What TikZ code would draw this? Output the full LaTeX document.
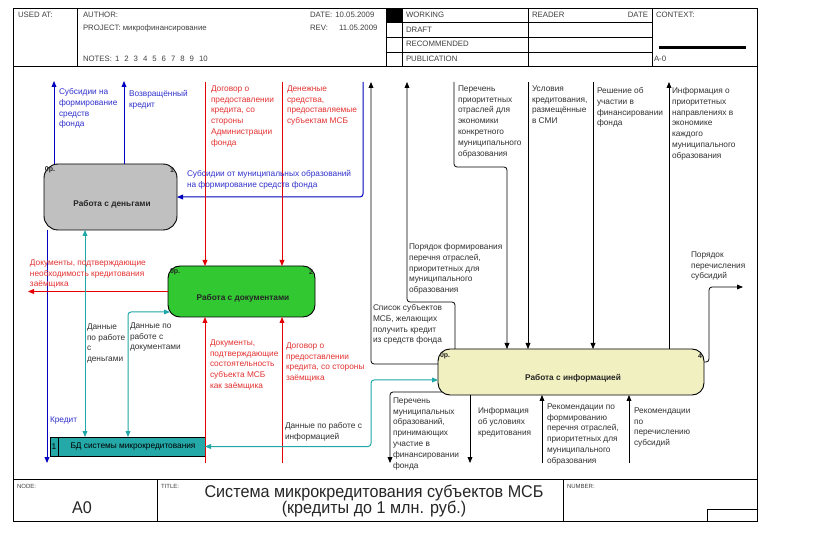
\documentclass[tikz,border=0pt]{standalone}
\usepackage{fontspec}
\setmainfont{Liberation Sans}
\newfontfamily\titlefont[FakeStretch=0.95]{Liberation Sans}
\usetikzlibrary{arrows.meta}
\definecolor{cblue}{RGB}{0,0,190}
\definecolor{cbluetext}{RGB}{50,50,205}
\definecolor{cred}{RGB}{228,0,0}
\definecolor{credtext}{RGB}{228,50,50}
\definecolor{cteal}{RGB}{32,168,168}
\definecolor{cgray}{RGB}{192,192,192}
\definecolor{cgreen}{RGB}{50,200,50}
\definecolor{cyellow}{RGB}{240,240,192}
\definecolor{cbd}{RGB}{36,168,168}
\definecolor{ctext}{RGB}{50,50,50}
\begin{document}
\begin{tikzpicture}[x=1pt,y=-1pt,
  every node/.style={inner sep=0pt,outer sep=0pt},
  lbl/.style={anchor=north west,align=left,font=\fontsize{8.3}{10.8}\selectfont,execute at begin node=\strut,text=ctext},
  hdr/.style={anchor=west,font=\fontsize{7.8}{9}\selectfont,text=black!75},
  sml/.style={anchor=west,font=\fontsize{6}{7}\selectfont,text=black!75},
  procbox/.style={draw=black,line width=0.9pt,rounded corners=12pt},
  boxtxt/.style={font=\fontsize{8.3}{10}\selectfont\bfseries,text=black!85},
  costtxt/.style={font=\fontsize{7}{8}\selectfont\bfseries,text=black!85},
  arrowone/.style={-{Triangle[length=6pt,width=4.8pt]}},
  arrowtwo/.style={{Triangle[length=6pt,width=4.8pt]}-{Triangle[length=6pt,width=4.8pt]}},
  bl/.style={draw=cblue,line width=1pt,arrowone,rounded corners=3pt},
  rd/.style={draw=cred,line width=1pt,arrowone,rounded corners=3pt},
  tl/.style={draw=cteal,line width=1pt,arrowtwo,rounded corners=3pt},
  bk/.style={draw=black,line width=0.8pt,arrowone,rounded corners=3pt},
  frm/.style={draw=black,line width=0.8pt},
]
\useasboundingbox (0,0) rectangle (823,540);
\fill[white] (0,0) rectangle (823,540);

% ---------- header ----------
\draw[frm] (13,8) rectangle (757,66);
\foreach \xx in {77,386,402,528,652} \draw[frm] (\xx,8) -- (\xx,66);
\foreach \yy in {22,37,52} \draw[frm] (386,\yy) -- (652,\yy);
\fill[black] (386,8) rectangle (402,22);
\node[hdr] (h1) at (18,15) {USED AT:};
\node[hdr] (h2) at (83,15) {AUTHOR:};
\node[hdr] (h3) at (83,28) {PROJECT: микрофинансирование};
\node[hdr] (h4) at (83,59) {NOTES:\hspace{3pt}1\hspace{5pt}2\hspace{5pt}3\hspace{5pt}4\hspace{5pt}5\hspace{5pt}6\hspace{5pt}7\hspace{5pt}8\hspace{5pt}9\hspace{5pt}10};
\node[hdr] (h5) at (310,15) {DATE:\hspace{3pt}10.05.2009};
\node[hdr] (h6) at (310,28) {REV:};
\node[hdr] (h7) at (339,28) {11.05.2009};
\node[hdr] (h8) at (406,15) {WORKING};
\node[hdr] (h9) at (406,30) {DRAFT};
\node[hdr] (h10) at (406,44) {RECOMMENDED};
\node[hdr] (h11) at (406,59) {PUBLICATION};
\node[hdr] (h12) at (532,15) {READER};
\node[hdr,anchor=east] (h13) at (648,15) {DATE};
\node[hdr] (h14) at (656,15) {CONTEXT:};
\node[hdr] (h15) at (654,59) {A-0};
\draw[black,line width=3pt] (659,48) -- (746,48);

% ---------- main frame and footer ----------
\draw[frm] (13,66) rectangle (757,521);
\draw[frm] (13,479) -- (757,479);
\draw[frm] (157,479) -- (157,521);
\draw[frm] (563,479) -- (563,521);
\draw[frm] (707,509) rectangle (757,521);
\node[sml] (f1) at (17,486) {NODE:};
\node[sml] (f2) at (161,486) {TITLE:};
\node[sml] (f3) at (567,486) {NUMBER:};
\node[font=\titlefont\fontsize{17}{16}\selectfont,text=black!85] (f4) at (82,508) {A0};
\node[font=\titlefont\fontsize{17}{16}\selectfont,align=center,text=black!85] (f5) at (374,501) {Система микрокредитования субъектов МСБ\\(кредиты до 1 млн. руб.)};

% ---------- boxes ----------
\node[procbox,rounded corners=14pt,fill=cgray,minimum width=133pt,minimum height=66pt] (b1) at (110.5,197) {};
\node[procbox,fill=cgreen,minimum width=147pt,minimum height=51pt] (b2) at (241.5,291.5) {};
\node[procbox,fill=cyellow,minimum width=266pt,minimum height=46pt] (b4) at (571,372) {};
\node[draw=black,line width=0.8pt,fill=cbd,minimum width=155pt,minimum height=19pt] (bd) at (127.5,446.5) {};
\draw[line width=0.8pt] (58,437) -- (58,456);

\node[boxtxt] (b1t) at (112,204) {Работа с деньгами};
\node[boxtxt] (b2t) at (243,298) {Работа с документами};
\node[boxtxt] (b4t) at (573,378) {Работа с информацией};
\node[font=\fontsize{8.3}{10}\selectfont,text=black] (bdn) at (54,447) {1};
\node[font=\fontsize{8.3}{10}\selectfont,text=black] (bdt) at (133,447) {БД системы микрокредитования};
\node[costtxt,anchor=west] (c1a) at (45,170) {0р.};
\node[costtxt] (c1b) at (172,170) {1};
\node[costtxt,anchor=west] (c2a) at (170,272) {0р.};
\node[costtxt] (c2b) at (311,272) {2};
\node[costtxt,anchor=west] (c4a) at (440,356) {0р.};
\node[costtxt] (c4b) at (700,356) {4};

% ---------- coordinates ----------
\coordinate (a1) at (54,81);
\coordinate (a2) at (124,81);
\coordinate (a3) at (363,82);
\coordinate (a4) at (47,463);
\coordinate (r1) at (205,82);
\coordinate (r2) at (282,82);
\coordinate (r3) at (28,291.5);
\coordinate (r4) at (205,463);
\coordinate (r5) at (282,463);
\coordinate (t1x) at (85,0);
\coordinate (t2x) at (128,0);
\coordinate (t2e) at (170,312);
\coordinate (t3a) at (371,380);
\coordinate (k1) at (371,82);
\coordinate (k1y) at (0,364);
\coordinate (k2) at (407,82);
\coordinate (k2b) at (455,302);
\coordinate (k3) at (454,82);
\coordinate (k3b) at (507,167);
\coordinate (k4) at (528,82);
\coordinate (k5) at (593,82);
\coordinate (k6) at (669,82);
\coordinate (k7y) at (0,362);
\coordinate (k7b) at (709,287);
\coordinate (k7) at (743,287);
\coordinate (k8s) at (442,392);
\coordinate (k8) at (390,463);
\coordinate (k9) at (470,463);
\coordinate (k10) at (542,463);
\coordinate (k11) at (629,463);

% ---------- connectors ----------
\draw[bl] (b1.north -| a1) -- (a1);
\draw[bl] (b1.north -| a2) -- (a2);
\draw[bl] (a3) |- (b1.east);
\draw[bl] (b1.south -| a4) -- (a4);
\draw[rd] (r1) -- (b2.north -| r1);
\draw[rd] (r2) -- (b2.north -| r2);
\draw[rd] (b2.west) -- (r3);
\draw[rd] (r4) -- (b2.south -| r4);
\draw[rd] (r5) -- (b2.south -| r5);
\draw[tl] (b1.south -| t1x) -- (bd.north -| t1x);
\draw[tl] (bd.north -| t2x) |- (t2e);
\draw[tl] (b4.west |- t3a) -- (t3a) |- (bd.east);
\draw[bk] (b4.west |- k1y) -| (k1);
\draw[bk] (b4.north -| k2b) -- (k2b) -| (k2);
\draw[bk] (k3) |- (k3b) -- (b4.north -| k3b);
\draw[bk] (k4) -- (b4.north -| k4);
\draw[bk] (k5) -- (b4.north -| k5);
\draw[bk] (b4.north -| k6) -- (k6);
\draw[bk] (b4.east |- k7y) -| (k7b) -- (k7);
\draw[bk] (k8s) -| (k8);
\draw[bk] (b4.south -| k9) -- (k9);
\draw[bk] (k10) -- (b4.south -| k10);
\draw[bk] (k11) -- (b4.south -| k11);

% ---------- labels ----------
\node[lbl,text=cbluetext] (la1) at (59,88.5) {Субсидии на\\формирование\\средств\\фонда};
\node[lbl,text=cbluetext] (la2) at (129,90.5) {Возвращённый\\кредит};
\node[lbl,text=cbluetext] (la3) at (187,170.5) {Субсидии от муниципальных образований\\на формирование средств фонда};
\node[lbl,text=cbluetext] (la4) at (50,415) {Кредит};
\node[lbl,text=credtext] (lr1) at (211,85.5) {Договор о\\предоставлении\\кредита, со\\стороны\\Администрации\\фонда};
\node[lbl,text=credtext] (lr2) at (287,85.5) {Денежные\\средства,\\предоставляемые\\субъектам МСБ};
\node[lbl,text=credtext] (lr3) at (30,259.5) {Документы, подтверждающие\\необходимость кредитования\\заёмщика};
\node[lbl,text=credtext] (lr4) at (210,339.5) {Документы,\\подтверждающие\\состоятельность\\субъекта МСБ\\как заёмщика};
\node[lbl,text=credtext] (lr5) at (286,342.5) {Договор о\\предоставлении\\кредита, со стороны\\заёмщика};
\node[lbl] (lt1) at (87,323.5) {Данные\\по работе\\с\\деньгами};
\node[lbl] (lt2) at (130,322.5) {Данные по\\работе с\\документами};
\node[lbl] (lt3) at (285,422.5) {Данные по работе с\\информацией};
\node[lbl] (lk1) at (373,304.5) {Список субъектов\\МСБ, желающих\\получить кредит\\из средств фонда};
\node[lbl] (lk2) at (409,243.5) {Порядок формирования\\перечня отраслей,\\приоритетных для\\муниципального\\образования};
\node[lbl] (lk3) at (458,85.5) {Перечень\\приоритетных\\отраслей для\\экономики\\конкретного\\муниципального\\образования};
\node[lbl] (lk4) at (532,85.5) {Условия\\кредитования,\\размещённые\\в СМИ};
\node[lbl] (lk5) at (597,87.5) {Решение об\\участии в\\финансировании\\фонда};
\node[lbl] (lk6) at (672,87.5) {Информация о\\приоритетных\\направлениях в\\экономике\\каждого\\муниципального\\образования};
\node[lbl] (lk7) at (691,251.5) {Порядок\\перечисления\\субсидий};
\node[lbl] (lk8) at (393,397.5) {Перечень\\муниципальных\\образований,\\принимающих\\участие в\\финансировании\\фонда};
\node[lbl] (lk9) at (478,407.5) {Информация\\об условиях\\кредитования};
\node[lbl] (lk10) at (547,403.5) {Рекомендации по\\формированию\\перечня отраслей,\\приоритетных для\\муниципального\\образования};
\node[lbl] (lk11) at (634,407.5) {Рекомендации\\по\\перечислению\\субсидий};
\end{tikzpicture}
\end{document}
